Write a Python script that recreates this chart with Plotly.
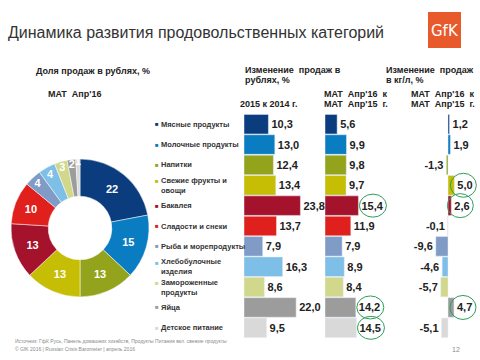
import plotly.graph_objects as go

categories = ["Мясные продукты", "Молочные продукты", "Напитки", "Свежие фрукты и<br>овощи",
              "Бакалея", "Сладости и снеки", "Рыба и морепродукты", "Хлебобулочные<br>изделия",
              "Замороженные<br>продукты", "Яйца", "Детское питание"]
share_rub = [22, 15, 13, 13, 13, 10, 4, 4, 3, 2, 1]
chg_rub_2015 = [10.3, 13.0, 12.4, 13.4, 23.8, 13.7, 7.9, 16.3, 8.6, 22.0, 9.5]
chg_rub_mat = [5.6, 9.9, 9.8, 9.7, 15.4, 11.9, 7.9, 8.9, 8.4, 14.2, 14.5]
chg_kg_mat = [1.2, 1.9, -1.3, 5.0, 2.6, -0.1, -9.6, -4.6, -5.7, 4.7, -5.1]
highlight_rub_mat = [False, False, False, False, True, False, False, False, False, True, True]
highlight_kg_mat = [False, False, False, True, True, False, False, False, False, True, False]
colors = ["#0b3c7d", "#0a7cc1", "#93a31b", "#c6bd05", "#a5122b", "#e0201c",
          "#7f9bc6", "#7dbfe6", "#d1d88b", "#9c9c9c", "#d9d9d9"]

W, H = 480, 360
FONT = "Liberation Sans, Arial, sans-serif"
ycats = list(range(len(categories)))


def fmt(v):
    return "<b>" + f"{v:.1f}".replace(".", ",") + "</b>"


def px(x):
    return x / W


def py(y):
    return 1 - y / H


fig = go.Figure()

fig.add_trace(go.Pie(
    values=share_rub, labels=[c.replace("<br>", " ") for c in categories],
    marker=dict(colors=colors, line=dict(color="white", width=0.5)),
    hole=0.46, sort=False, direction="clockwise", rotation=0,
    texttemplate="<b>%{value}</b>", textposition="inside",
    insidetextorientation="horizontal",
    textfont=dict(color="white", size=11, family=FONT),
    domain=dict(x=[px(11), px(149)], y=[py(298), py(158)]),
    showlegend=False, hoverinfo="label+value"))

txtfont = dict(size=10, color="#222222", family=FONT)
fig.add_trace(go.Bar(x=chg_rub_2015, y=ycats, orientation="h", marker=dict(color=colors),
                     text=[fmt(v) for v in chg_rub_2015], textposition="outside",
                     textfont=txtfont, cliponaxis=False, xaxis="x", yaxis="y", showlegend=False))
fig.add_trace(go.Bar(x=chg_rub_mat, y=ycats, orientation="h", marker=dict(color=colors),
                     text=[fmt(v) for v in chg_rub_mat], textposition="outside",
                     textfont=txtfont, cliponaxis=False, xaxis="x2", yaxis="y", showlegend=False))
fig.add_trace(go.Bar(x=chg_kg_mat, y=ycats, orientation="h", marker=dict(color=colors),
                     text=[fmt(v) for v in chg_kg_mat], textposition="outside",
                     textfont=txtfont, cliponaxis=False, xaxis="x3", yaxis="y", showlegend=False))

s1, s2, s3 = 2.37, 2.17, 1.27
rowh = (338 - 114) / len(categories)
pad = 0.4
ax_common = dict(visible=False, fixedrange=True, showgrid=False, zeroline=False)
fig.update_layout(
    width=W, height=H, margin=dict(l=0, r=0, t=0, b=0),
    paper_bgcolor="white", plot_bgcolor="rgba(0,0,0,0)",
    bargap=0.04,
    uniformtext=dict(minsize=11, mode="show"),
    font=dict(family=FONT),
    xaxis=dict(range=[0, 30], domain=[px(244), px(244 + 30 * s1)], anchor="y", **ax_common),
    xaxis2=dict(range=[0, 36], domain=[px(325), px(325 + 36 * s2)], anchor="y", **ax_common),
    xaxis3=dict(range=[-12, 23], domain=[px(448 - 12 * s3), px(448 + 23 * s3)], anchor="y", **ax_common),
    yaxis=dict(range=[len(categories) - 0.5 + pad, -0.5 - pad],
               domain=[py(338 + pad * rowh), py(114 - pad * rowh)], anchor="x", **ax_common),
)

ann = []


def add_text(text, x, y, size, color="#333333", bold=False, xanchor="left"):
    ann.append(dict(text=("<b>" + text + "</b>") if bold else text, x=px(x - 2), y=py(y),
                    xref="paper", yref="paper", xanchor=xanchor, yanchor="middle",
                    showarrow=False, font=dict(size=size, color=color, family=FONT)))


# Title
add_text("Динамика развития продовольственных категорий", 8, 32, 16, "#333333")
# Headers
add_text("Доля продаж в рублях, %", 36, 71, 9, "#222222", True)
add_text("MAT  Апр'16", 48, 94, 9, "#222222", True)
add_text("Изменение  продаж в", 245, 70, 9, "#222222", True)
add_text("рублях, %", 245, 80, 9, "#222222", True)
add_text("Изменение  продаж", 386, 70, 9, "#222222", True)
add_text("в кг/л, %", 386, 80, 9, "#222222", True)
add_text("2015 к 2014 г.", 240, 104, 9, "#222222", True)
add_text("MAT  Апр'16  к", 324, 94, 9, "#222222", True)
add_text("MAT  Апр'15  г.", 324, 104, 9, "#222222", True)
add_text("MAT  Апр'16  к", 411, 94, 9, "#222222", True)
add_text("MAT  Апр'15  г.", 411, 104, 9, "#222222", True)

# Legend labels aligned with bar rows
for i, (c, col) in enumerate(zip(categories, colors)):
    two = "<br>" in c
    ann.append(dict(text="■", x=px(157), y=i, xref="paper", yref="y", xanchor="center",
                    yanchor="middle", yshift=4 if two else 0, showarrow=False,
                    font=dict(size=6, color=col, family=FONT)))
    ann.append(dict(text="<b>" + c + "</b>", x=px(159), y=i, xref="paper", yref="y",
                    xanchor="left", yanchor="middle", align="left", showarrow=False,
                    font=dict(size=7.5, color="#333333", family=FONT)))

# Footer
add_text("Источник: ГфК Русь, Панель домашних хозяйств, Продукты Питания вкл. свежие продукты",
         15, 341, 5, "#8a8a8a")
add_text("© GfK 2016 | Russian Crisis Barometer | апрель 2016", 15, 349, 5, "#8a8a8a")
add_text("12", 464, 349, 7, "#8a8a8a", xanchor="right")

# Logo
ann.append(dict(text="GfK", x=px(444.5), y=py(31), xref="paper", yref="paper",
                xanchor="center", yanchor="middle", showarrow=False,
                font=dict(size=15, color="white", family="DejaVu Sans, sans-serif")))
fig.update_layout(annotations=ann)

shapes = [dict(type="rect", xref="paper", yref="paper", x0=px(428), x1=px(461),
               y0=py(48), y1=py(12), fillcolor="#e8592b", line=dict(width=0), layer="below")]
for i, (v, h) in enumerate(zip(chg_rub_mat, highlight_rub_mat)):
    if h:
        shapes.append(dict(type="circle", xref="x2", yref="y", xsizemode="pixel", ysizemode="pixel",
                           xanchor=v, yanchor=i, x0=1, x1=28, y0=-11.5, y1=11.5,
                           line=dict(color="#2e9d5b", width=1), layer="above"))
for i, (v, h) in enumerate(zip(chg_kg_mat, highlight_kg_mat)):
    if h:
        shapes.append(dict(type="circle", xref="x3", yref="y", xsizemode="pixel", ysizemode="pixel",
                           xanchor=v, yanchor=i, x0=-4, x1=22, y0=-12, y1=12,
                           line=dict(color="#2e9d5b", width=1), layer="above"))
fig.update_layout(shapes=shapes)

fig.write_html("out.html", config={"displayModeBar": False},
               post_script="document.body.style.margin='0';document.body.style.padding='0';")
